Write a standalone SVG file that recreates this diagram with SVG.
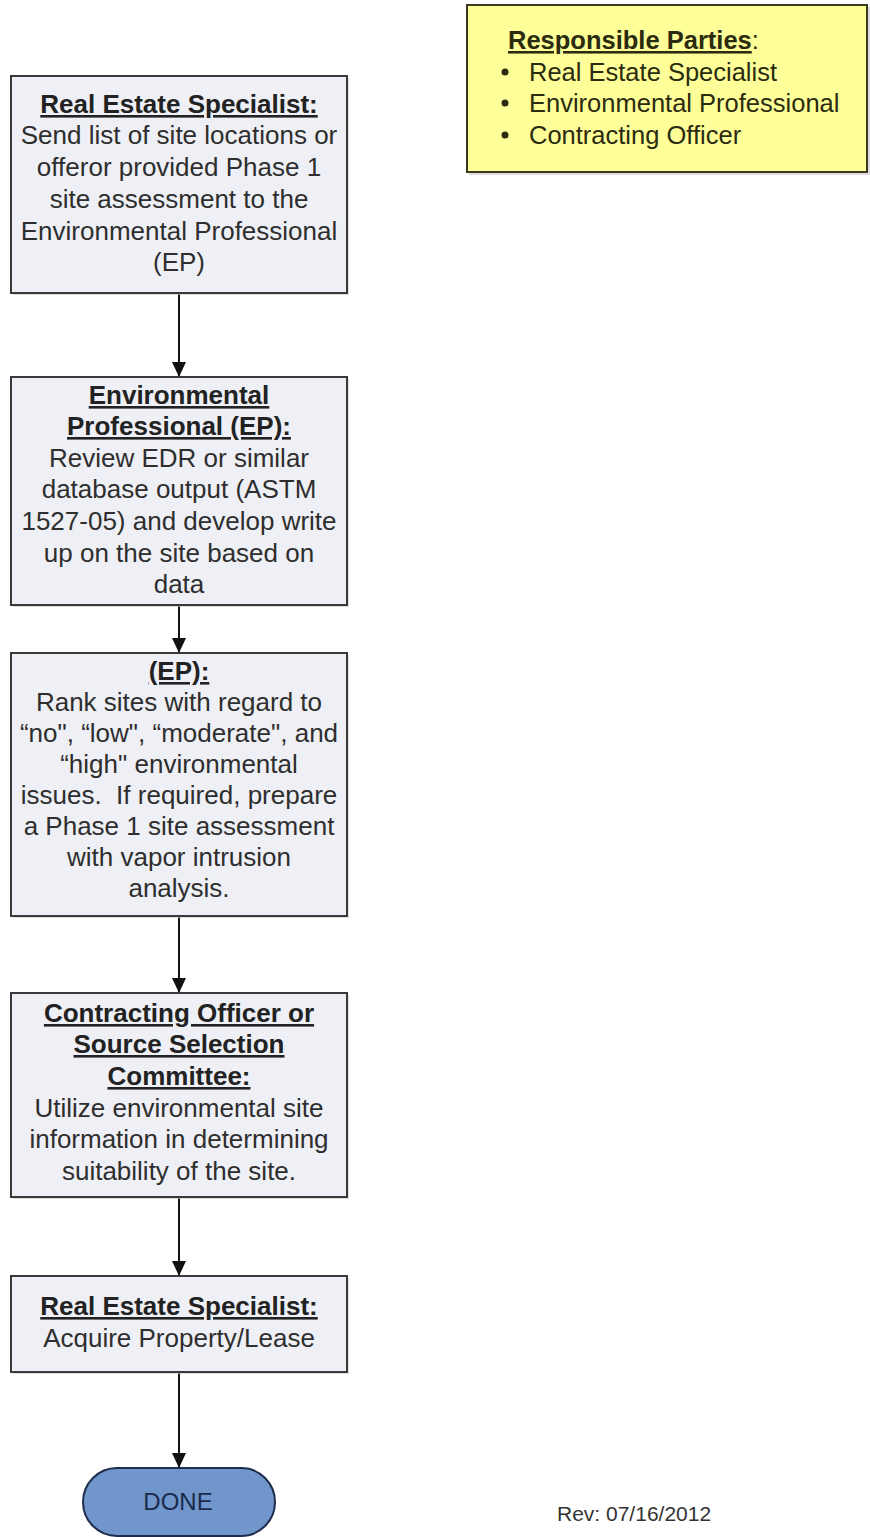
<svg xmlns="http://www.w3.org/2000/svg" width="870" height="1537" viewBox="0 0 870 1537">
<style>
.box{fill:#eef0f5;stroke:#3a3a3a;stroke-width:2}
.sh{fill:#c8c8c8;opacity:0.6}
.t{font-family:"Liberation Sans",Arial,sans-serif;font-size:26px;fill:#2e2e2e;text-anchor:middle}
.b{font-weight:bold;text-decoration:underline;fill:#222}
.y{font-family:"Liberation Sans",Arial,sans-serif;font-size:25.5px;fill:#2b2b10}
.c{stroke:#111;stroke-width:2;fill:none;marker-end:url(#ah)}
</style>
<defs>
<marker id="ah" markerUnits="userSpaceOnUse" markerWidth="16" markerHeight="14" refX="15" refY="7" orient="auto" viewBox="0 0 16 14">
<path d="M0,0 L15,7 L0,14 Z" fill="#111"/>
</marker>
</defs>
<rect width="870" height="1537" fill="#fff"/>
<g id="connectors">
<line class="c" x1="179" y1="293" x2="179" y2="377"/>
<line class="c" x1="179" y1="605" x2="179" y2="653"/>
<line class="c" x1="179" y1="916" x2="179" y2="993"/>
<line class="c" x1="179" y1="1197" x2="179" y2="1276"/>
<line class="c" x1="179" y1="1372" x2="179" y2="1468"/>
</g>
<g id="legend">
<rect x="469" y="7" width="401" height="168" class="sh"/>
<rect x="467" y="5" width="400" height="167" fill="#ffff99" stroke="#3a3a20" stroke-width="2"/>
<text class="y" x="508" y="49"><tspan font-weight="bold" text-decoration="underline">Responsible Parties</tspan>:</text>
<circle cx="505" cy="72" r="3.5" fill="#2b2b10"/>
<text class="y" x="529" y="81">Real Estate Specialist</text>
<circle cx="505" cy="103" r="3.5" fill="#2b2b10"/>
<text class="y" x="529" y="112">Environmental Professional</text>
<circle cx="505" cy="135" r="3.5" fill="#2b2b10"/>
<text class="y" x="529" y="144">Contracting Officer</text>
</g>
<g id="n1">
<rect x="13" y="78" width="336" height="217" class="sh"/>
<rect x="11" y="76" width="336" height="217" class="box"/>
<text class="t"><tspan class="b" x="179" y="113">Real Estate Specialist:</tspan><tspan x="179" y="144">Send list of site locations or</tspan><tspan x="179" y="176">offeror provided Phase 1</tspan><tspan x="179" y="208">site assessment to the</tspan><tspan x="179" y="240">Environmental Professional</tspan><tspan x="179" y="271">(EP)</tspan></text>
</g>
<g id="n2">
<rect x="13" y="379" width="336" height="228" class="sh"/>
<rect x="11" y="377" width="336" height="228" class="box"/>
<text class="t"><tspan class="b" x="179" y="404">Environmental</tspan><tspan class="b" x="179" y="435">Professional (EP):</tspan><tspan x="179" y="467">Review EDR or similar</tspan><tspan x="179" y="498">database output (ASTM</tspan><tspan x="179" y="530">1527-05) and develop write</tspan><tspan x="179" y="562">up on the site based on</tspan><tspan x="179" y="593">data</tspan></text>
</g>
<g id="n3">
<rect x="13" y="655" width="336" height="263" class="sh"/>
<rect x="11" y="653" width="336" height="263" class="box"/>
<text class="t"><tspan class="b" x="179" y="680">(EP):</tspan><tspan x="179" y="711">Rank sites with regard to</tspan><tspan x="179" y="742">“no", “low", “moderate", and</tspan><tspan x="179" y="773">“high" environmental</tspan><tspan x="179" y="804" xml:space="preserve">issues.  If required, prepare</tspan><tspan x="179" y="835">a Phase 1 site assessment</tspan><tspan x="179" y="866">with vapor intrusion</tspan><tspan x="179" y="897">analysis.</tspan></text>
</g>
<g id="n4">
<rect x="13" y="995" width="336" height="204" class="sh"/>
<rect x="11" y="993" width="336" height="204" class="box"/>
<text class="t"><tspan class="b" x="179" y="1022">Contracting Officer or</tspan><tspan class="b" x="179" y="1053">Source Selection</tspan><tspan class="b" x="179" y="1085">Committee:</tspan><tspan x="179" y="1117">Utilize environmental site</tspan><tspan x="179" y="1148">information in determining</tspan><tspan x="179" y="1180">suitability of the site.</tspan></text>
</g>
<g id="n5">
<rect x="13" y="1278" width="336" height="96" class="sh"/>
<rect x="11" y="1276" width="336" height="96" class="box"/>
<text class="t"><tspan class="b" x="179" y="1315">Real Estate Specialist:</tspan><tspan x="179" y="1347">Acquire Property/Lease</tspan></text>
</g>
<g id="done">
<rect x="83" y="1468" width="192" height="68" rx="34" ry="34" fill="#7096cc" stroke="#1f2d4d" stroke-width="2"/>
<text x="178" y="1510" font-family="'Liberation Sans',Arial,sans-serif" font-size="24" fill="#1a2a4a" text-anchor="middle">DONE</text>
</g>
<text x="557" y="1521" font-family="'Liberation Sans',Arial,sans-serif" font-size="21" fill="#333">Rev: 07/16/2012</text>
</svg>
